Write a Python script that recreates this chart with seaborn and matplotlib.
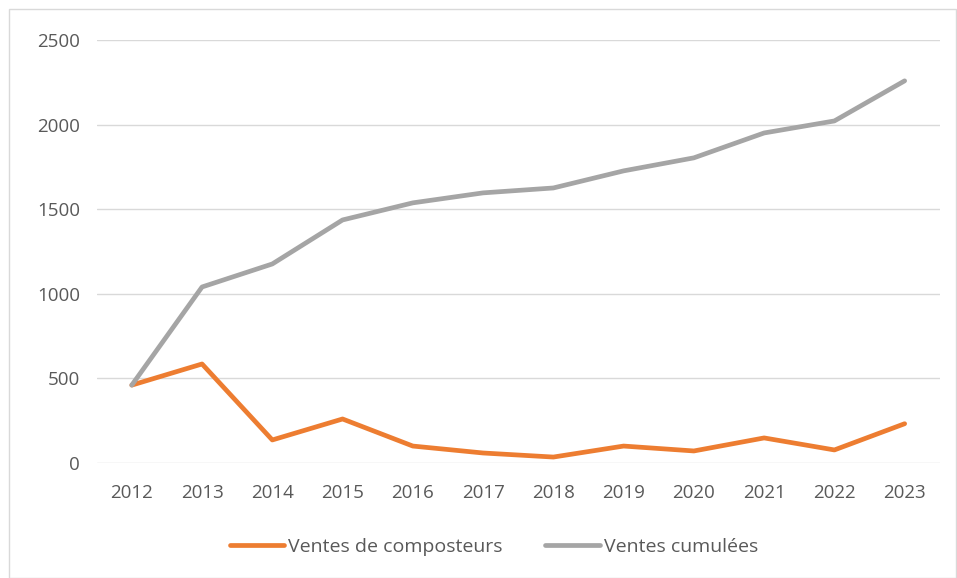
import pandas as pd
import numpy as np
import matplotlib.pyplot as plt
import seaborn as sns
from matplotlib.patches import Rectangle

years = ['2012', '2013', '2014', '2015', '2016', '2017', '2018', '2019', '2020', '2021', '2022', '2023']
ventes = [460, 585, 136, 260, 100, 59, 35, 100, 71, 148, 77, 232]
cumul = [460, 1040, 1176, 1436, 1537, 1596, 1625, 1726, 1803, 1950, 2021, 2258]

df = pd.DataFrame({'Année': years * 2,
                   'Valeur': ventes + cumul,
                   'Série': ['Ventes de composteurs'] * 12 + ['Ventes cumulées'] * 12})

sns.set_style('white')
plt.rcParams['font.family'] = ['Open Sans', 'DejaVu Sans']

fig = plt.figure(figsize=(9.57, 5.78), dpi=100)
ax = fig.add_axes([0.101, 0.199, 0.881, 0.732])

sns.lineplot(data=df, x='Année', y='Valeur', hue='Série', sort=False,
             palette=['#ED7D31', '#A5A5A5'], linewidth=3.4, ax=ax,
             solid_capstyle='round', clip_on=False)

ax.set_xlim(-0.5, 11.5)
ax.set_ylim(0, 2500)
ax.set_yticks([0, 500, 1000, 1500, 2000, 2500])
ax.yaxis.grid(True, color='#D9D9D9', linewidth=1)
ax.set_axisbelow(True)
for s in ax.spines.values():
    s.set_visible(False)
ax.tick_params(axis='both', labelsize=13.5, colors='#595959', length=0)
ax.tick_params(axis='x', pad=15)
ax.tick_params(axis='y', pad=12)
ax.set_xlabel('')
ax.set_ylabel('')

leg = ax.legend(loc='center', bbox_to_anchor=(0.471, -0.198), ncol=2,
                frameon=False, fontsize=14, handlelength=2.8, columnspacing=2.2,
                handletextpad=0.2)
for t in leg.get_texts():
    t.set_color('#595959')

fig.patches.append(Rectangle((0.009, 0.0), 0.99, 0.985, transform=fig.transFigure,
                             fill=False, edgecolor='#D9D9D9', linewidth=1))

plt.savefig('out.png', dpi=100)
